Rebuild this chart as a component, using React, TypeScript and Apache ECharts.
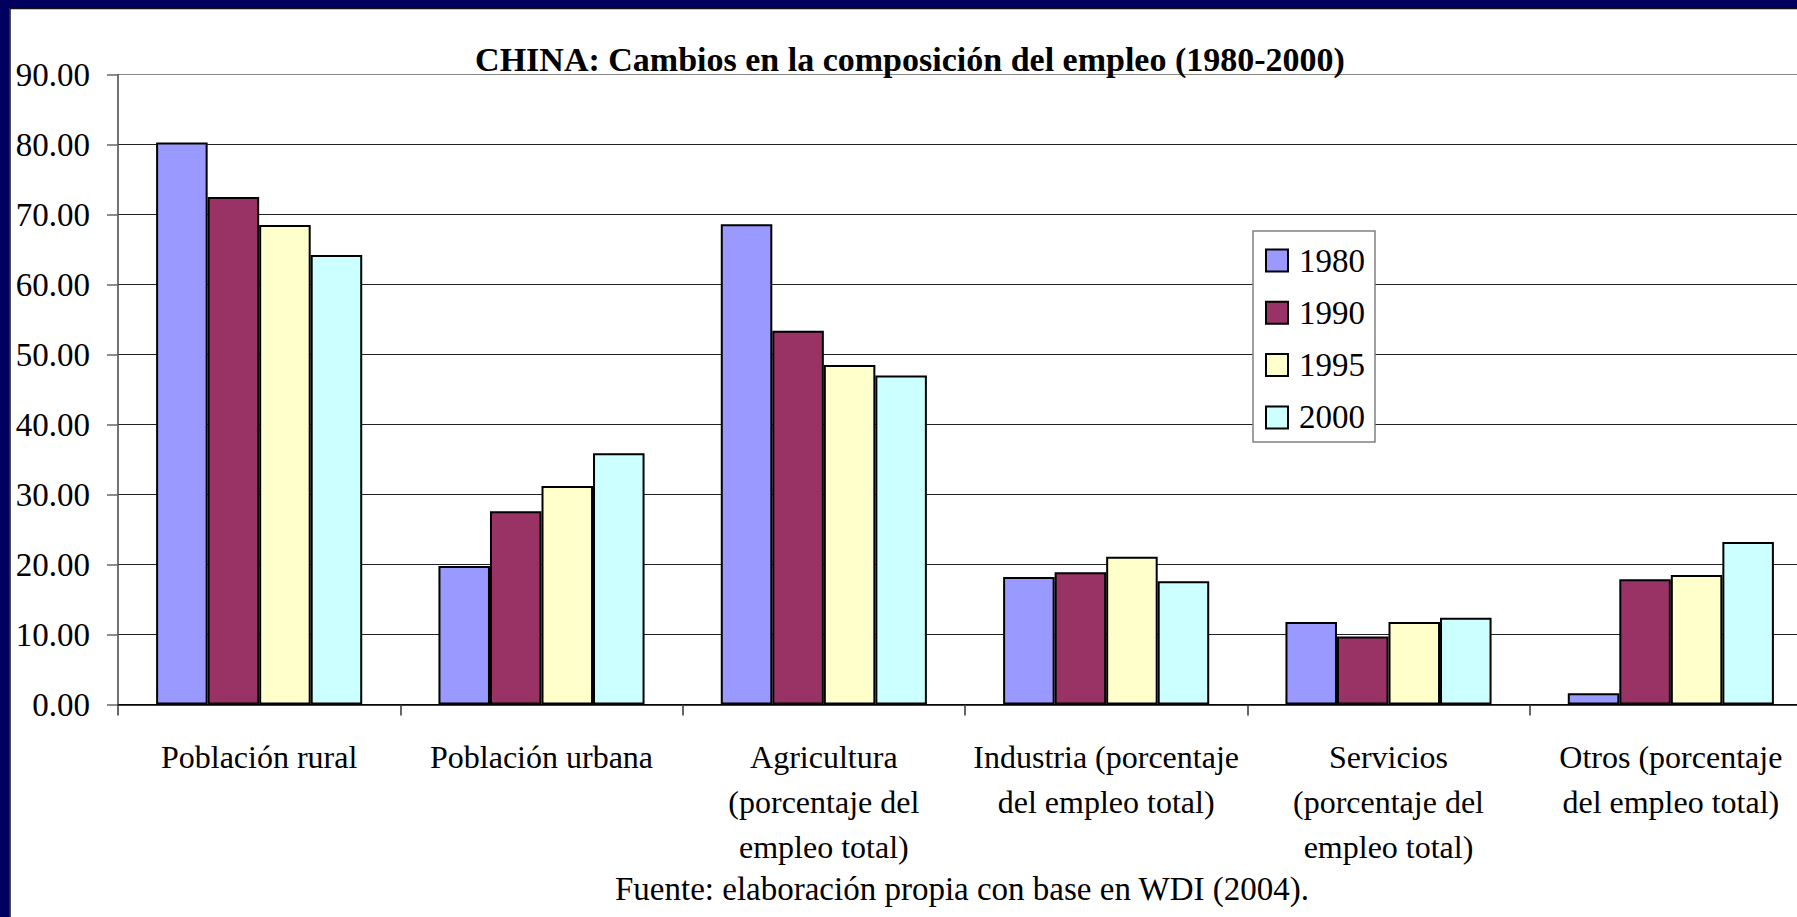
import React, { useEffect, useRef } from "react";
import * as echarts from "echarts";

const categories = [
  "Población rural",
  "Población urbana",
  "Agricultura\n(porcentaje del\nempleo total)",
  "Industria (porcentaje\ndel empleo total)",
  "Servicios\n(porcentaje del\nempleo total)",
  "Otros (porcentaje\ndel empleo total)",
];
const years = ["1980", "1990", "1995", "2000"];
const v1980 = [80.3, 19.8, 68.6, 18.2, 11.8, 1.6];
const v1990 = [72.5, 27.6, 53.4, 18.9, 9.7, 17.9];
const v1995 = [68.5, 31.2, 48.5, 21.1, 11.8, 18.5];
const v2000 = [64.2, 35.9, 47.0, 17.6, 12.4, 23.2];
const colors = ["#9999FF", "#993366", "#FFFFCC", "#CCFFFF"];
const titleText = "CHINA: Cambios en la composición del empleo (1980-2000)";
const footerText = "Fuente: elaboración propia con base en WDI (2004).";

const FONT = "'Liberation Serif', 'Times New Roman', serif";

export default function App() {
  const ref = useRef<HTMLDivElement>(null);
  useEffect(() => {
    if (!ref.current) return;
    const chart = echarts.init(ref.current, undefined, { renderer: "svg" });
    const seriesData = [v1980, v1990, v1995, v2000];
    const splitColors = ["#222", "#222", "#222", "#222", "#222", "#222", "#222", "#222", "#222", "#888"];
    chart.setOption({
      animation: false,
      backgroundColor: "#ffffff",
      textStyle: { fontFamily: FONT },
      grid: {
        left: 118,
        width: 1694,
        top: 74.5,
        bottom: 212.5,
        containLabel: false,
        outerBoundsMode: "none",
      },
      legend: {
        orient: "vertical",
        left: 1253,
        top: 231,
        data: years,
        icon: "rect",
        itemWidth: 22,
        itemHeight: 22,
        itemGap: 19.3,
        padding: [13, 10, 8, 12],
        borderColor: "#808080",
        borderWidth: 1.5,
        backgroundColor: "#ffffff",
        textStyle: {
          fontFamily: FONT,
          fontSize: 33,
          color: "#000",
          padding: [0, 0, 0, 6],
        },
      },
      xAxis: {
        type: "category",
        data: categories,
        axisLine: { show: true, lineStyle: { color: "#000", width: 1.5 } },
        axisTick: { show: true, length: 11, lineStyle: { color: "#333", width: 1.5 } },
        axisLabel: {
          interval: 0,
          fontFamily: FONT,
          fontSize: 32,
          color: "#000",
          lineHeight: 45,
          margin: 30,
        },
      },
      yAxis: {
        type: "value",
        min: 0,
        max: 90,
        interval: 10,
        axisLine: { show: true, lineStyle: { color: "#444", width: 1.5 } },
        axisTick: { show: true, length: 11, lineStyle: { color: "#666", width: 1.5 } },
        splitLine: { show: true, lineStyle: { color: splitColors, width: 1.2 } },
        axisLabel: {
          fontFamily: FONT,
          fontSize: 33,
          color: "#000",
          margin: 28,
          formatter: (v: number) => v.toFixed(2),
        },
      },
      series: years.map((y, i) => ({
        name: y,
        type: "bar",
        data: seriesData[i],
        barGap: "0%",
        barCategoryGap: "27%",
        itemStyle: { color: colors[i], borderColor: "#000", borderWidth: 2 },
      })),
      graphic: [
        { type: "rect", left: 0, top: 0, shape: { width: 1797, height: 8 }, style: { fill: "#00005E" }, z: 100 },
        { type: "rect", left: 0, top: 0, shape: { width: 9.5, height: 917 }, style: { fill: "#00005E" }, z: 100 },
        { type: "line", shape: { x1: 9.5, y1: 8.5, x2: 1797, y2: 8.5 }, style: { stroke: "#111", lineWidth: 1.5 }, z: 100 },
        { type: "line", shape: { x1: 10, y1: 8.5, x2: 10, y2: 917 }, style: { stroke: "#111", lineWidth: 1.5 }, z: 100 },
        {
          type: "text",
          x: 910,
          y: 59,
          style: {
            text: titleText,
            fontFamily: FONT,
            fontSize: 34,
            fontWeight: "bold",
            fill: "#000",
            textAlign: "center",
            textVerticalAlign: "middle",
          },
          z: 100,
        },
        {
          type: "text",
          x: 962,
          y: 889,
          style: {
            text: footerText,
            fontFamily: FONT,
            fontSize: 33,
            fill: "#000",
            textAlign: "center",
            textVerticalAlign: "middle",
          },
          z: 100,
        },
      ],
    });
    return () => chart.dispose();
  }, []);
  return (
    <div
      ref={ref}
      style={{ position: "fixed", left: 0, top: 0, width: 1797, height: 917, background: "#fff" }}
    />
  );
}
